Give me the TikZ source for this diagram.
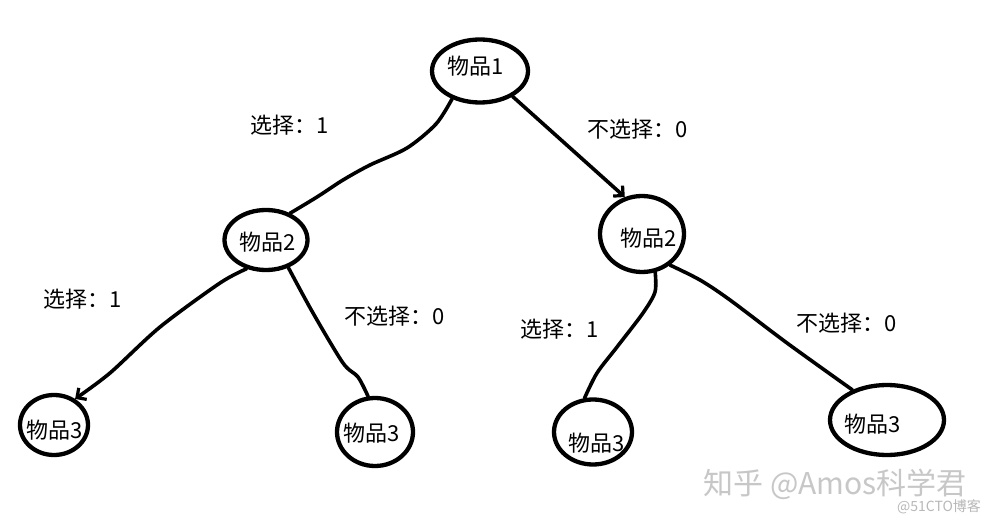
\documentclass[tikz,border=0pt]{standalone}
\usepackage{fontspec}
\setmainfont{Noto Sans CJK SC}
\usetikzlibrary{arrows.meta,shapes.geometric}
\begin{document}
\begin{tikzpicture}[x=1pt,y=-1pt,
  blob/.style={draw, ellipse, line width=4.3pt, inner sep=0pt},
  lbl/.style={font=\fontsize{22}{26}\selectfont, inner sep=0pt},
  edge/.style={line width=3.6pt, line cap=round, line join=round},
  tip/.style={-{Straight Barb[length=7pt,width=14pt,line width=3.2pt]}}]
\useasboundingbox[fill=white] (0,0) rectangle (991,524);
% item blobs
\node[blob, minimum width=96pt, minimum height=63pt] (n1) at (480,71) {};
\node[blob, minimum width=83pt, minimum height=60pt] (n2L) at (266,240) {};
\node[blob, minimum width=84pt, minimum height=76pt] (n2R) at (642,234) {};
\node[blob, minimum width=68pt, minimum height=60pt] (n3a) at (54,425) {};
\node[blob, minimum width=76pt, minimum height=68pt] (n3b) at (375,432) {};
\node[blob, minimum width=78pt, minimum height=65pt] (n3c) at (593,432) {};
\node[blob, minimum width=114pt, minimum height=70pt] (n3d) at (887,420) {};
% item texts
\node[lbl] (t1) at (476,66) {物品1};
\node[lbl] (t2L) at (268,242) {物品2};
\node[lbl] (t2R) at (649,238) {物品2};
\node[lbl] (t3a) at (55,430) {物品3};
\node[lbl] (t3b) at (372,433) {物品3};
\node[lbl] (t3c) at (597,443) {物品3};
\node[lbl] (t3d) at (873,424) {物品3};
% edge labels
\node[lbl] (e1) at (290,125) {选择：1};
\node[lbl] (e2) at (638,129) {不选择：0};
\node[lbl] (e3) at (83,299) {选择：1};
\node[lbl] (e4) at (395,316) {不选择：0};
\node[lbl] (e5) at (560,329) {选择：1};
\node[lbl] (e6) at (847,323) {不选择：0};
% connectors
\draw[edge] plot[smooth] coordinates {(n1.225) (436,124) (407,148) (370,165) (343,180) (317,197) (n2L.48)};
\draw[edge, tip] (n1.322) -- (n2R.115);
\draw[edge, tip] plot[smooth] coordinates {(n2L.236) (220,283) (160,327) (110,373) (n3a.51)};
\draw[edge] plot[smooth] coordinates {(n2L.309) (313,313) (343,363) (358,377) (n3b.101)};
\draw[edge] plot[smooth] coordinates {(n2R.289) (655,292) (643,313) (617,347) (597,373) (n3c.104)};
\draw[edge] plot[smooth] coordinates {(n2R.312) (700,280) (730,300) (787,343) (n3d.139)};
% watermark
\node[font=\fontsize{30}{34}\selectfont, text=black!22, inner sep=0pt] (w1) at (835,484) {知乎 @Amos科学君};
\node[font=\fontsize{14}{16}\selectfont, text=black!28, inner sep=0pt] (w2) at (939,507) {@51CTO博客};
\end{tikzpicture}
\end{document}
